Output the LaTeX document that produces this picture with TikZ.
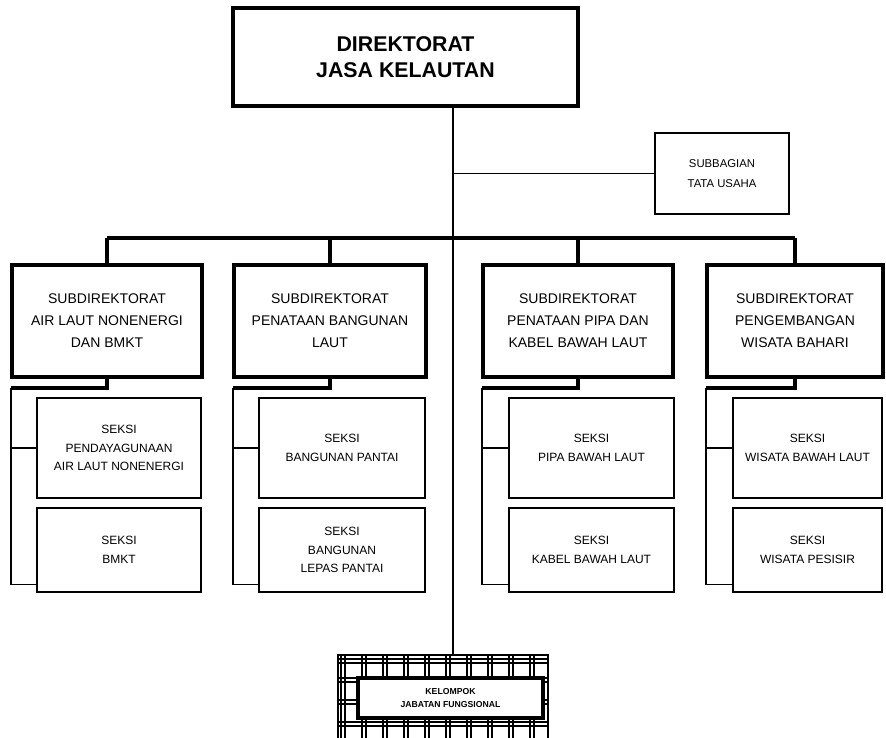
\documentclass[tikz,border=0pt]{standalone}
\usepackage{fontspec}
\setmainfont{Liberation Sans}
\usetikzlibrary{calc}

\begin{document}
\begin{tikzpicture}[
            x=0.75pt, y=-0.75pt,
            headbox/.style={draw, line width=2.6pt, minimum width=258.75pt, minimum height=73.5pt, align=center, font=\fontsize{16}{19}\selectfont\bfseries},
            tubox/.style={draw, line width=1.8pt, minimum width=100.5pt, minimum height=60.75pt, align=center, font=\fontsize{8.5}{15}\selectfont},
            subdir/.style={draw, line width=2.8pt, minimum width=#1, minimum height=84pt, align=center, font=\fontsize{10.5}{16.5}\selectfont},
            seksi/.style={draw, line width=2.2pt, minimum width=#1, align=center, font=\fontsize{9}{14}\selectfont},
            kelbox/.style={draw, line width=2.4pt, fill=white, minimum width=138.75pt, minimum height=30pt, align=center, font=\fontsize{6.5}{9.5}\selectfont\bfseries},
            gridline/.style={line width=1.1pt},
            line/.style={line width=1.3pt},
            thickline/.style={line width=2.6pt}
        ]
            \useasboundingbox (0,0) rectangle (886,738);

            % Direktorat
            \node[headbox] (dir) at (405.5,57) {DIREKTORAT\\JASA KELAUTAN};
            \node[tubox] (tu) at (722,173.5) {SUBBAGIAN\\TATA USAHA};

            % Subdirektorat
            \node[subdir=142.5pt] (sd1) at (107,321) {SUBDIREKTORAT\\AIR LAUT NONENERGI\\DAN BMKT};
            \node[subdir=144pt] (sd2) at (330,321) {SUBDIREKTORAT\\PENATAAN BANGUNAN\\LAUT};
            \node[subdir=142.5pt] (sd3) at (578,321) {SUBDIREKTORAT\\PENATAAN PIPA DAN\\KABEL BAWAH LAUT};
            \node[subdir=132pt] (sd4) at (795,321) {SUBDIREKTORAT\\PENGEMBANGAN\\WISATA BAHARI};

            % Seksi
            \node[seksi=123pt, minimum height=75pt] (sa1) at (119,448) {SEKSI\\PENDAYAGUNAAN\\AIR LAUT NONENERGI};
            \node[seksi=123pt, minimum height=63pt] (sb1) at (119,550) {SEKSI\\BMKT};
            \node[seksi=124.5pt, minimum height=75pt] (sa2) at (342,448) {SEKSI\\BANGUNAN PANTAI};
            \node[seksi=124.5pt, minimum height=63pt] (sb2) at (342,550) {SEKSI\\BANGUNAN\\LEPAS PANTAI};
            \node[seksi=123.75pt, minimum height=75pt] (sa3) at (591.5,448) {SEKSI\\PIPA BAWAH LAUT};
            \node[seksi=123.75pt, minimum height=63pt] (sb3) at (591.5,550) {SEKSI\\KABEL BAWAH LAUT};
            \node[seksi=111.75pt, minimum height=75pt] (sa4) at (807.5,448) {SEKSI\\WISATA BAWAH LAUT};
            \node[seksi=111.75pt, minimum height=63pt] (sb4) at (807.5,550) {SEKSI\\WISATA PESISIR};

            % Kelompok jabatan fungsional (grid frame)
            \node[draw, line width=1.3pt, minimum width=157.5pt, minimum height=63pt] (grid) at (443,697) {};
            \foreach \gx in {341,362,...,530} {
                \draw[gridline] (\gx,655) -- (\gx,738);
                \draw[gridline] (\gx+4,655) -- (\gx+4,738);
            }
            \foreach \gy in {659,678,700,722} {
                \draw[gridline] (338,\gy) -- (548,\gy);
                \draw[gridline] (338,\gy+4) -- (548,\gy+4);
            }
            \node[kelbox] (kjf) at (450.5,698) {KELOMPOK\\JABATAN FUNGSIONAL};

            % Trunk and bus
            \coordinate (ttop) at (453,106);
            \coordinate (bus) at (453,238);
            \draw[line] (ttop) -- (ttop |- grid.north);
            \draw[line] (tu.west) -- (tu.west -| ttop);
            \draw[thickline] (sd1.north |- bus) -- (sd4.north |- bus);
            \foreach \i in {1,...,4}
                \draw[thickline] (sd\i.north) -- (sd\i.north |- bus);

            % Subdirektorat to seksi
            \foreach \i in {1,...,4} {
                \coordinate (k\i) at ($(sd\i.south west)+(1,9)$);
                \draw[thickline] (sd\i.south) |- (k\i);
                \draw[line] (k\i) |- (sa\i.west);
                \draw[line] (k\i) |- ($(sb\i.south west)+(0,-9)$);
            }
        \end{tikzpicture}
\end{document}
